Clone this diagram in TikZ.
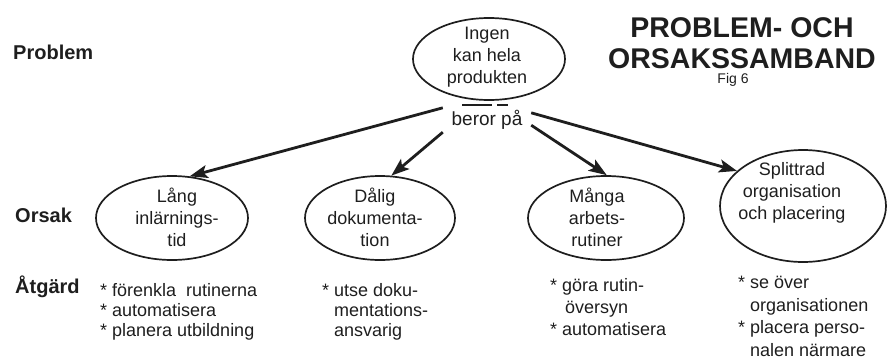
\documentclass[tikz,border=0pt]{standalone}
\usepackage{fontspec}
\setmainfont{Liberation Sans}
\usetikzlibrary{arrows.meta,shapes.geometric}
\definecolor{ink}{HTML}{1E1E1E}
\tikzset{
  oval/.style={draw=ink, line width=1.7pt, ellipse, inner sep=0pt},
  ovaltext/.style={text=ink, align=center, font=\fontsize{18}{22}\selectfont, inner sep=0pt},
  rowlabel/.style={text=ink, anchor=west, font=\bfseries\fontsize{20}{24}\selectfont, inner sep=0pt},
  todo/.style={text=ink, align=left, anchor=north west, inner sep=0pt},
  cause/.style={draw=ink, line width=2.8pt, -{Stealth[length=18pt,width=13pt,inset=4pt]}},
}
\newcommand{\ind}{\phantom{* }}
\begin{document}
\begin{tikzpicture}[x=1pt,y=-1pt]
\useasboundingbox (0,0) rectangle (891,359);

% row labels
\node[rowlabel] (lproblem) at (13,52) {Problem};
\node[rowlabel] (lorsak)   at (15,215) {Orsak};
\node[rowlabel] (latgard)  at (15,287) {Åtgärd};

% title
\node[text=ink, align=center, font=\bfseries\fontsize{28.5}{31}\selectfont, inner sep=0pt] (title) at (742,43) {PROBLEM- OCH\\ORSAKSSAMBAND};
\node[text=ink, font=\fontsize{14}{16}\selectfont, inner sep=0pt] (fig) at (733,80) {Fig 6};

% problem
\node[oval, minimum width=152pt, minimum height=82pt] (prob) at (489,59) {};
\node[ovaltext] (probtext) at (487,57) {Ingen\\kan hela\\produkten};
\node[text=ink, font=\fontsize{19}{22}\selectfont, inner sep=0pt, minimum width=88pt, minimum height=24pt] (beror) at (487,120) {beror på};
\draw[ink, line width=1.6pt] ([xshift=-27pt,yshift=-4pt]prob.south) -- ([xshift=3pt,yshift=-4pt]prob.south);
\draw[ink, line width=1.6pt] ([xshift=8pt,yshift=-4pt]prob.south) -- ([xshift=19pt,yshift=-4pt]prob.south);

% causes
\node[oval, minimum width=152pt, minimum height=84pt] (lang) at (172,218) {};
\node[ovaltext] (langtext) at (177,217) {Lång\\inlärnings-\\tid};
\node[oval, minimum width=150pt, minimum height=84pt] (dalig) at (380,218) {};
\node[ovaltext] (daligtext) at (375,217) {Dålig\\dokumenta-\\tion};
\node[oval, minimum width=156pt, minimum height=84pt] (manga) at (606,218) {};
\node[ovaltext] (mangatext) at (597,217) {Många\\arbets-\\rutiner};
\node[oval, minimum width=166pt, minimum height=112pt] (split) at (803,206) {};
\node[ovaltext] (splittext) at (792,193) {Splittrad\\organisation\\och placering};

% connectors
\draw[cause] (beror.north west) -- (lang.67);
\draw[cause] (beror.south west) -- (dalig.75);
\draw[cause] ([yshift=7pt]beror.south east) -- (manga.89);
\draw[cause] ([yshift=-5pt]beror.north east) -- (split.152);

% measures
\node[todo, font=\fontsize{18}{20}\selectfont] (todo1) at (100,283) {* förenkla\ \ rutinerna\\* automatisera\\* planera utbildning};
\node[todo, font=\fontsize{18}{20}\selectfont] (todo2) at (322,283) {* utse doku-\\\ind mentations-\\\ind ansvarig};
\node[todo, font=\fontsize{18}{22}\selectfont] (todo3) at (550,278) {* göra rutin-\\\ind\,översyn\\* automatisera};
\node[todo, font=\fontsize{18}{22.5}\selectfont] (todo4) at (738,276) {* se över\\\ind organisationen\\* placera perso-\\\ind nalen närmare};
\end{tikzpicture}
\end{document}
